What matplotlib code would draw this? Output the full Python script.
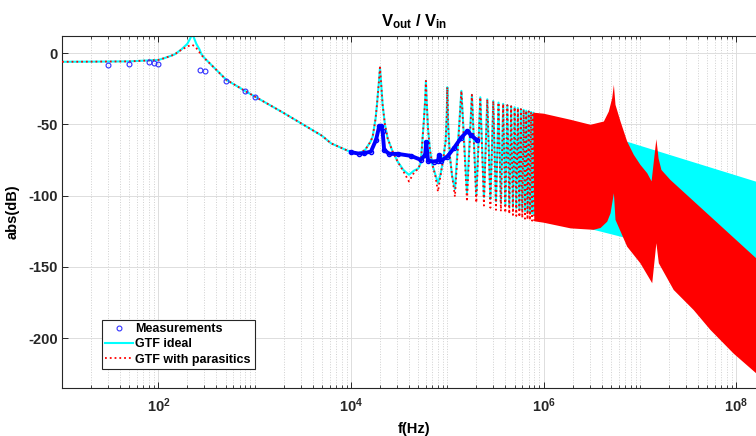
import matplotlib
matplotlib.use("Agg")
import matplotlib.pyplot as plt
from matplotlib.lines import Line2D
from matplotlib.ticker import FixedLocator, LogLocator, NullFormatter

plt.rcParams["font.family"] = ["Liberation Sans", "DejaVu Sans"]
plt.rcParams["font.weight"] = "bold"
plt.rcParams["axes.unicode_minus"] = False
plt.rcParams["mathtext.fontset"] = "custom"
plt.rcParams["mathtext.rm"] = "Liberation Sans:bold"
plt.rcParams["mathtext.it"] = "Liberation Sans:bold"
plt.rcParams["mathtext.bf"] = "Liberation Sans:bold"

# ---------------- data ----------------
# low-frequency part, shared frequency grid
lf_f = [10, 20, 50, 100, 116, 147, 173, 200, 215, 225, 235, 248, 268, 279,
        300, 354, 507, 816, 1483, 2000, 5000, 6200, 1.0e4, 1.2e4]
lf_par = [-6.1, -6.0, -5.8, -4.8, -3.5, -1.0, 2.3, 4.6, 5.5, 5.8, 5.0, 3.5, 0.5, -1.2,
          -3.5, -8.2, -18.7, -27.0, -37.0, -42.0, -58.0, -63.3, -69.5, -70.5]
lf_ideal = [-6.1, -6.0, -5.8, -4.8, -3.5, -1.0, 2.5, 6.5, 10.5, 14.0, 10.5, 6.5, 2.5, -0.5,
            -3.3, -8.2, -18.7, -27.0, -37.0, -42.0, -58.0, -63.3, -69.5, -70.5]

# first resonances, drawn point by point
res_f = [1.4e4, 1.6e4, 1.68e4, 1.8e4, 1.86e4, 1.95e4, 2.0e4, 2.06e4, 2.13e4, 2.25e4,
         2.4e4, 2.7e4, 3.05e4, 3.5e4, 4.0e4, 4.5e4, 5.0e4, 5.3e4, 5.7e4, 5.9e4,
         6.0e4, 6.1e4, 6.3e4, 6.6e4, 7.0e4, 7.5e4, 8.0e4, 8.5e4, 9.0e4, 9.6e4,
         9.85e4, 1.0e5, 1.02e5, 1.06e5, 1.12e5]
res_par = [-68, -62, -58.5, -46, -36.3, -20, -10.1, -22, -36.3, -50,
           -59.7, -69, -76.1, -83, -90.1, -84, -81, -77, -48, -32,
           -19.5, -33, -52.7, -68, -78.4, -86, -97.2, -86, -76, -62,
           -45, -23.9, -50, -71.4, -86]
res_ideal = [-68, -62, -58.5, -46, -36.3, -20, -10.1, -22, -36.3, -50,
             -59.7, -69, -76.1, -82, -85.4, -82.5, -81, -77, -48, -32,
             -19.5, -33, -52.7, -68, -78.4, -85, -91.3, -85, -76, -62,
             -45, -23.9, -50, -71.4, -86]

# denser resonances: peaks and anti-resonances
zig_peak_f = [1.4e5, 1.8e5, 2.2e5, 2.6e5, 3.0e5, 3.4e5, 3.8e5, 4.2e5, 4.6e5,
              5.0e5, 5.4e5, 5.8e5, 6.2e5, 6.6e5, 7.0e5, 7.4e5, 7.8e5]
zig_peak_db = [-26.5, -29.3, -31.0, -32.4, -33.6, -34.7, -35.6, -36.5, -37.3,
               -38.0, -38.6, -39.3, -39.8, -40.4, -40.9, -41.3, -41.8]
zig_valley_f = [1.2e5, 1.6e5, 2.0e5, 2.4e5, 2.8e5, 3.2e5, 3.6e5, 4.0e5, 4.4e5,
                4.8e5, 5.2e5, 5.6e5, 6.0e5, 6.4e5, 6.8e5, 7.2e5, 7.6e5, 8.0e5]
zig_valley_par = [-100.7, -104.2, -104.9, -107, -108.5, -110, -111, -112, -112.8,
                  -113.6, -114.3, -115, -115.6, -116.2, -116.7, -117.2, -117.6, -118]
zig_valley_ideal = [-95.5, -97.9, -99.5, -101, -102.5, -104, -105, -106, -107,
                    -108, -108.8, -109.5, -110.2, -110.8, -111.4, -112, -112.5, -113]

# envelopes of the region where resonances merge into a solid band
par_up_f = [7.8e5, 1.0e6, 1.91e6, 3.07e6, 4.22e6, 4.75e6, 5.15e6, 5.36e6, 5.57e6,
            6.28e6, 7.36e6, 8.63e6, 1.01e7, 1.19e7, 1.32e7, 1.38e7, 1.48e7, 1.56e7,
            1.67e7, 2.07e7, 2.82e7, 5.38e7, 1.61e8, 2.0e8]
par_up_db = [-41.8, -42.5, -46.8, -50.3, -48.0, -41.0, -31.6, -22.3, -36.3,
             -48.0, -62.0, -71.4, -78.4, -84.3, -90.0, -78.4, -60.4, -74.0,
             -82.0, -89.0, -97.3, -114.6, -144.0, -149.8]
par_lo_f = [8.0e5, 1.0e6, 1.91e6, 3.3e6, 3.9e6, 4.57e6, 4.95e6, 5.36e6, 5.57e6,
            7.36e6, 1.01e7, 1.28e7, 1.34e7, 1.48e7, 1.57e7, 2.24e7, 3.61e7, 5.38e7,
            9.4e7, 1.61e8, 2.0e8]
par_lo_db = [-118, -119, -123, -124, -122.7, -118.3, -112.4, -98.3, -117,
             -135.8, -147.5, -159.2, -161.5, -133.4, -147.5, -166.2, -180.3, -194.2,
             -210.9, -224.7, -230.2]
ideal_up_f = [7.8e5, 2.0e8]
ideal_up_db = [-41.8, -92.2]
ideal_lo_f = [8.0e5, 3.3e6, 7.4e6, 1.5e7, 2.0e8]
ideal_lo_db = [-113, -124, -130, -132, -152]

# measurements
meas_f = [30, 50, 80, 90, 100, 270, 305, 500, 800, 1000]
meas_db = [-8.2, -7.5, -6.5, -7.0, -7.7, -12.2, -12.9, -19.4, -26.5, -30.9]
sweep_f = [1.0e4, 1.2e4, 1.37e4, 1.61e4, 1.82e4, 1.96e4, 2.05e4, 2.13e4, 2.21e4, 2.49e4,
           3.05e4, 4.19e4, 5.31e4, 5.89e4, 6.03e4, 6.32e4, 7.3e4, 8.0e4, 8.22e4,
           8.57e4, 1.0e5, 1.17e5, 1.38e5, 1.62e5, 1.75e5, 2.02e5]
sweep_db = [-69.5, -70.5, -70.2, -69.1, -60.9, -51.5, -51.0, -55.0, -67.9, -70.7,
            -70.7, -72.1, -74.9, -71.4, -62.5, -75.6, -76.1, -75.5, -71.4,
            -75.6, -72.6, -66.7, -59.7, -54.6, -57.4, -60.9]

# ---------------- assemble the transfer functions ----------------
zig_f, zig_par, zig_ideal = [], [], []
for i in range(len(zig_valley_f)):
    zig_f.append(zig_valley_f[i])
    zig_par.append(zig_valley_par[i])
    zig_ideal.append(zig_valley_ideal[i])
    if i < len(zig_peak_f):
        zig_f.append(zig_peak_f[i])
        zig_par.append(zig_peak_db[i])
        zig_ideal.append(zig_peak_db[i])

gtf_f = lf_f + res_f + zig_f
gtf_par = lf_par + res_par + zig_par
gtf_ideal = lf_ideal + res_ideal + zig_ideal

# ---------------- plot ----------------
fig = plt.figure(figsize=(7.56, 4.36), dpi=100)
ax = fig.add_axes([62 / 756, 48 / 436, 703.3 / 756, 352 / 436])

ax.plot(gtf_f, gtf_ideal, color="#00ffff", lw=1.5, zorder=2)
ax.fill(ideal_up_f + ideal_lo_f[::-1], ideal_up_db + ideal_lo_db[::-1],
        color="#00ffff", lw=0, zorder=2)
ax.plot(gtf_f, gtf_par, color="#ff0000", ls=":", lw=1.3, zorder=3)
ax.fill(par_up_f + par_lo_f[::-1], par_up_db + par_lo_db[::-1],
        color="#ff0000", lw=0, zorder=3)

ax.plot(meas_f, meas_db, "o", mfc="none", mec="#3030ff", ms=3.5, mew=0.8, zorder=5)
ax.plot(sweep_f, sweep_db, "-o", color="#0000ff", lw=2.8, ms=3, mfc="none",
        mew=1.0, zorder=5)

ax.set_xscale("log")
ax.set_xlim(10, 2e8)
ax.set_ylim(-235, 12)
ax.set_yticks([-200, -150, -100, -50, 0])

ax.xaxis.set_major_locator(FixedLocator([1e2, 1e4, 1e6, 1e8]))
ax.xaxis.set_minor_locator(LogLocator(base=10, subs=range(1, 10), numticks=50))
ax.xaxis.set_minor_formatter(NullFormatter())

ax.grid(True, which="major", color="#dddddd", lw=0.7, ls="-")
ax.grid(True, which="minor", axis="x", color="#d0d0d0", lw=0.7, ls=":")
ax.set_axisbelow(True)

ax.tick_params(which="both", direction="in", top=True, right=True,
               colors="#262626", labelsize=10.5)
ax.tick_params(which="major", length=4.5, width=0.7)
ax.tick_params(which="minor", length=2.5, width=0.6)
ax.tick_params(axis="y", pad=3)
ax.tick_params(axis="x", pad=6)
for sp in ax.spines.values():
    sp.set_color("#262626")
    sp.set_linewidth(0.8)

ax.set_xlabel("f(Hz)", fontsize=10.5, fontweight="bold", labelpad=5)
ax.set_ylabel("abs(dB)", fontsize=10.5, fontweight="bold", labelpad=6)
ax.set_title(r"$V_{out}$ / $V_{in}$", fontsize=12, fontweight="bold", pad=7)

handles = [
    Line2D([], [], ls="none", marker="o", mfc="none", mec="#3030ff", ms=3.5, mew=0.8),
    Line2D([], [], color="#00ffff", lw=1.5),
    Line2D([], [], color="#ff0000", ls=":", lw=1.3),
]
leg = ax.legend(handles, ["Measurements", "GTF ideal", "GTF with parasitics"],
                loc="lower left", bbox_to_anchor=(0.0564, 0.053), borderaxespad=0,
                fancybox=False, framealpha=1, edgecolor="#262626",
                prop={"size": 9, "weight": "bold"}, handlelength=2.2,
                handletextpad=0.2, labelspacing=0.25, borderpad=0.3)
leg.get_frame().set_linewidth(0.8)

fig.savefig("out.png", dpi=100)
